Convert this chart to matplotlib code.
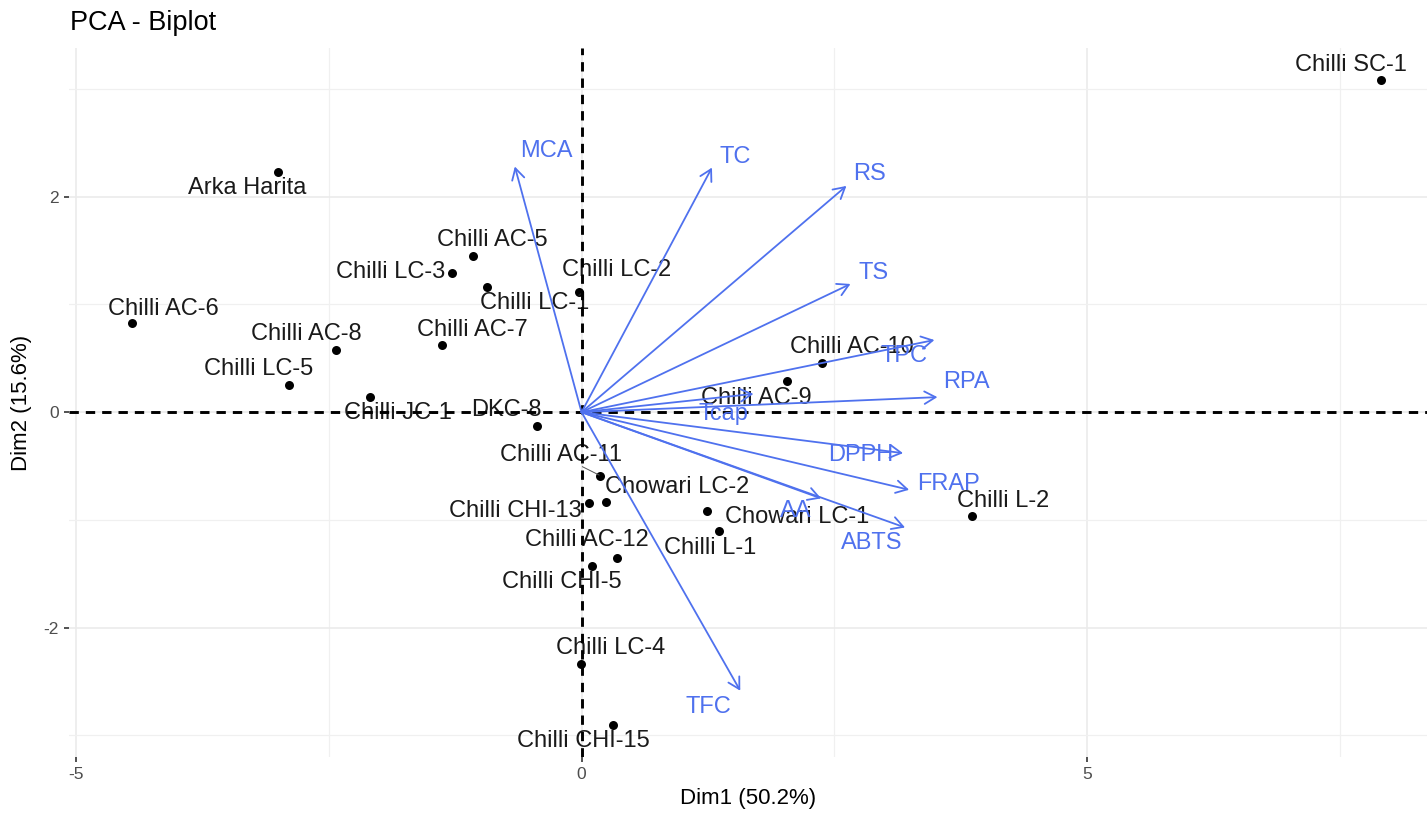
import matplotlib
matplotlib.use("Agg")
import matplotlib.pyplot as plt
from matplotlib.ticker import FixedLocator

plt.rcParams['font.family'] = ['Liberation Sans', 'DejaVu Sans']
plt.rcParams['axes.unicode_minus'] = False

# ---- individuals (PCA scores) ----
ind_names = ["Chilli SC-1", "Arka Harita", "Chilli AC-6", "Chilli AC-5", "Chilli LC-3",
             "Chilli LC-1", "Chilli LC-2", "Chilli AC-8", "Chilli AC-7", "Chilli LC-5",
             "Chilli JC-1", "DKC-8", "Chilli AC-10", "Chilli AC-9", "Chilli AC-11",
             "Chowari LC-2", "Chilli CHI-13", "Chowari LC-1", "Chilli L-1", "Chilli L-2",
             "Chilli AC-12", "Chilli CHI-5", "Chilli LC-4", "Chilli CHI-15"]
ind_dim1 = [7.91, -3.00, -4.45, -1.07, -1.28, -0.94, -0.03, -2.43, -1.38, -2.89,
            -2.09, -0.44, 2.375, 2.03, 0.185, 0.24, 0.07, 1.24, 1.36, 3.86,
            0.355, 0.10, -0.01, 0.315]
ind_dim2 = [3.08, 2.23, 0.83, 1.45, 1.29, 1.16, 1.12, 0.58, 0.62, 0.25,
            0.14, -0.125, 0.46, 0.29, -0.59, -0.83, -0.84, -0.915, -1.10, -0.96,
            -1.35, -1.43, -2.34, -2.90]
# repelled label positions (data units)
ind_lab_x = [7.61, -3.31, -4.14, -0.885, -1.89, -0.46, 0.35, -2.72, -1.08, -3.19,
             -1.82, -0.74, 2.675, 1.73, -0.20, 0.95, -0.65, 2.13, 1.27, 4.17,
             0.05, -0.20, 0.29, 0.015]
ind_lab_y = [3.22, 2.08, 0.96, 1.60, 1.30, 1.01, 1.32, 0.73, 0.76, 0.40,
             -0.007, 0.02, 0.605, 0.13, -0.40, -0.69, -0.92, -0.97, -1.26, -0.82,
             -1.19, -1.58, -2.19, -3.05]

# ---- variables (loadings, scaled) ----
var_names = ["MCA", "TC", "RS", "TS", "TPC", "RPA", "Tcap", "DPPH", "FRAP", "AA", "ABTS", "TFC"]
var_dim1 = [-0.66, 1.29, 2.62, 2.66, 3.49, 3.52, 1.70, 3.18, 3.24, 2.37, 3.20, 1.57]
var_dim2 = [2.28, 2.27, 2.10, 1.19, 0.67, 0.14, 0.17, -0.38, -0.72, -0.80, -1.07, -2.585]
var_lab_x = [-0.345, 1.52, 2.85, 2.89, 3.19, 3.81, 1.40, 2.765, 3.625, 2.117, 2.87, 1.25]
var_lab_y = [2.42, 2.37, 2.21, 1.295, 0.52, 0.28, -0.017, -0.40, -0.666, -0.914, -1.217, -2.74]

title = "PCA - Biplot"
xlab = "Dim1 (50.2%)"
ylab = "Dim2 (15.6%)"

W, H = 1427, 817
fig = plt.figure(figsize=(W / 100, H / 100), dpi=100)
ax = fig.add_axes([69 / W, 60 / H, 1358 / W, 709 / H])
ax.set_xlim(-5.07, 8.363)
ax.set_ylim(-3.20, 3.38)

for s in ax.spines.values():
    s.set_visible(False)

ax.xaxis.set_major_locator(FixedLocator([-5, 0, 5]))
ax.xaxis.set_minor_locator(FixedLocator([-2.5, 2.5, 7.5]))
ax.yaxis.set_major_locator(FixedLocator([-2, 0, 2]))
ax.yaxis.set_minor_locator(FixedLocator([-3, -1, 1, 3]))
ax.grid(which='major', color='#EBEBEB', linewidth=1.2, zorder=0)
ax.grid(which='minor', color='#F0F0F0', linewidth=0.9, zorder=0)
ax.set_axisbelow(True)
ax.tick_params(which='major', length=3.5, width=1.2, color='#333333',
               labelcolor='#4D4D4D', labelsize=12.5, pad=4)
ax.tick_params(which='minor', length=0)

ax.set_xlabel(xlab, fontsize=16, color='black', labelpad=4)
ax.set_ylabel(ylab, fontsize=16, color='black', labelpad=8)
fig.text(70 / W, 1 - 30 / H, title, fontsize=19.5, color='black', va='baseline', ha='left')

# individuals
ax.scatter(ind_dim1, ind_dim2, s=42, color='black', zorder=3, linewidths=0)
for n, lx, ly in zip(ind_names, ind_lab_x, ind_lab_y):
    ax.text(lx, ly, n, fontsize=17, color='#1A1A1A', ha='center', va='center', zorder=3)
# repel segment for Chilli AC-11
i11 = ind_names.index("Chilli AC-11")
ax.plot([0.009, ind_dim1[i11] - 0.012], [-0.506, ind_dim2[i11] + 0.007],
        color='#555555', lw=0.7, zorder=3)

# reference lines
ax.axhline(0, color='black', lw=2.1, ls=(0, (3.2, 2.4)), zorder=4)
ax.axvline(0, color='black', lw=2.1, ls=(0, (3.2, 2.4)), zorder=4)

# variables
vcol = '#4F71EE'
for n, vx, vy, lx, ly in zip(var_names, var_dim1, var_dim2, var_lab_x, var_lab_y):
    ax.annotate("", xy=(vx, vy), xytext=(0, 0),
                arrowprops=dict(arrowstyle='->,head_length=0.8,head_width=0.45',
                                mutation_scale=10, color=vcol, lw=1.3,
                                shrinkA=0, shrinkB=0), zorder=5)
    ax.text(lx, ly, n, fontsize=17, color=vcol, ha='center', va='center', zorder=5)

fig.savefig("out.png", dpi=100)
